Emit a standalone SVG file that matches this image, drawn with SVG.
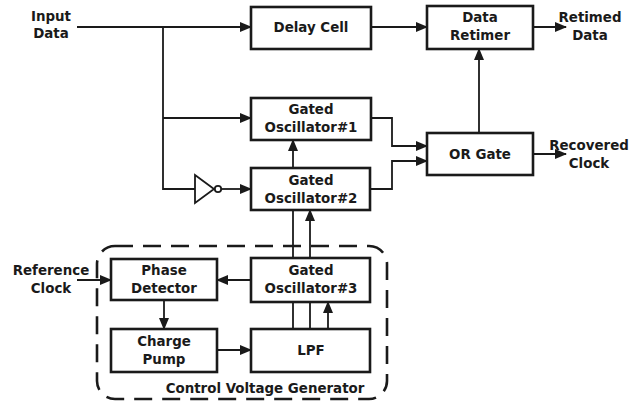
<svg xmlns="http://www.w3.org/2000/svg" width="636" height="404" viewBox="0 0 636 404">
<defs>
<marker id="ah" markerUnits="userSpaceOnUse" markerWidth="12" markerHeight="10" refX="11" refY="5" orient="auto">
<path d="M0,0 L12,5 L0,10 Z" fill="#1a1a1a"/>
</marker>
</defs>
<style>
.box{fill:#fff;stroke:#1a1a1a;stroke-width:2.6}
.ln{fill:none;stroke:#1a1a1a;stroke-width:1.8}
.ar{marker-end:url(#ah)}
text{font-family:"DejaVu Sans",Verdana,sans-serif;font-weight:bold;font-size:13.4px;fill:#1a1a1a;text-anchor:middle}
</style>
<rect width="636" height="404" fill="#fff"/>
<g id="cvg">
<rect x="97" y="246" width="290" height="153" rx="18" ry="18" fill="none" stroke="#1a1a1a" stroke-width="2.6" stroke-dasharray="18,10"/>
<text x="265" y="393">Control Voltage Generator</text>
</g>
<g id="connectors">
<path class="ln ar" d="M77,27 H251"/>
<path class="ln" d="M163,27 V189 H195"/>
<path class="ln ar" d="M163,118 H251"/>
<path class="ln ar" d="M222,189 H251"/>
<path class="ln ar" d="M371,27 H427"/>
<path class="ln ar" d="M533,27 H566"/>
<path class="ln ar" d="M479,133 V49"/>
<path class="ln ar" d="M371,118 H392 V146 H427"/>
<path class="ln ar" d="M370,189 H392 V161 H427"/>
<path class="ln ar" d="M533,154 H566"/>
<path class="ln ar" d="M293,168 V140"/>
<path class="ln" d="M293,258 V210"/>
<path class="ln ar" d="M310,258 V210"/>
<path class="ln" d="M293,329 V302"/>
<path class="ln" d="M310,329 V302"/>
<path class="ln ar" d="M328,329 V302"/>
<path class="ln ar" d="M251,280 H217"/>
<path class="ln ar" d="M77,280 H111"/>
<path class="ln ar" d="M164,300 V329"/>
<path class="ln ar" d="M217,350 H251"/>
</g>
<g id="inverter">
<path d="M195,175 L214,189 L195,203 Z" fill="#fff" stroke="#1a1a1a" stroke-width="1.8"/>
<circle cx="218" cy="189" r="3.2" fill="#fff" stroke="#1a1a1a" stroke-width="1.8"/>
</g>
<g id="input-data"><text x="51" y="21">Input</text><text x="51" y="38">Data</text></g>
<g id="reference-clock"><text x="51" y="275">Reference</text><text x="51" y="293">Clock</text></g>
<g id="retimed-data"><text x="590" y="22">Retimed</text><text x="590" y="40">Data</text></g>
<g id="recovered-clock"><text x="589" y="150">Recovered</text><text x="589" y="168">Clock</text></g>
<g id="delay-cell"><rect class="box" x="251" y="7" width="120" height="42"/><text x="311" y="32">Delay Cell</text></g>
<g id="data-retimer"><rect class="box" x="427" y="6" width="106" height="43"/><text x="480" y="22">Data</text><text x="480" y="40">Retimer</text></g>
<g id="gated-osc-1"><rect class="box" x="251" y="98" width="120" height="42"/><text x="311" y="114">Gated</text><text x="311" y="132">Oscillator#1</text></g>
<g id="or-gate"><rect class="box" x="427" y="133" width="106" height="42"/><text x="480" y="159">OR Gate</text></g>
<g id="gated-osc-2"><rect class="box" x="251" y="168" width="119" height="42"/><text x="311" y="185">Gated</text><text x="311" y="203">Oscillator#2</text></g>
<g id="gated-osc-3"><rect class="box" x="251" y="258" width="119" height="44"/><text x="311" y="275">Gated</text><text x="311" y="293">Oscillator#3</text></g>
<g id="phase-detector"><rect class="box" x="111" y="259" width="106" height="41"/><text x="164" y="275">Phase</text><text x="164" y="293">Detector</text></g>
<g id="charge-pump"><rect class="box" x="111" y="329" width="106" height="43"/><text x="164" y="346">Charge</text><text x="164" y="364">Pump</text></g>
<g id="lpf"><rect class="box" x="251" y="329" width="119" height="43"/><text x="311" y="355">LPF</text></g>
</svg>
